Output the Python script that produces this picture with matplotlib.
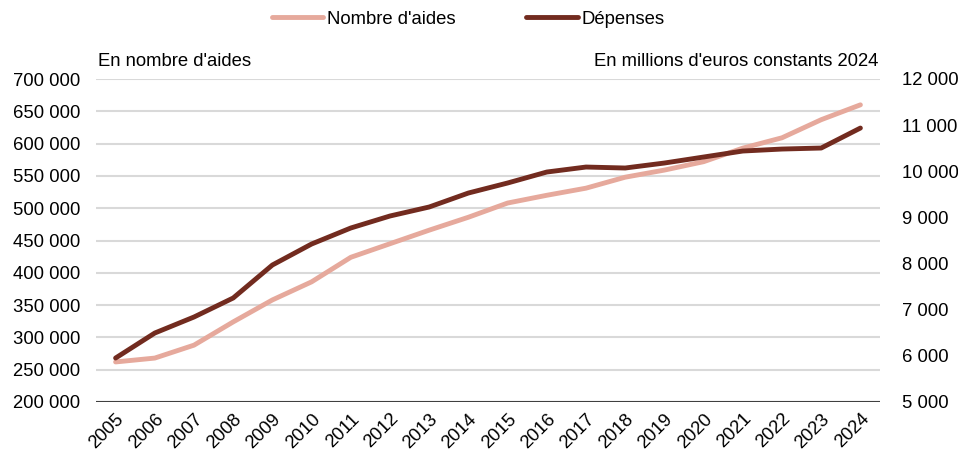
import numpy as np
import matplotlib
matplotlib.use('Agg')
from matplotlib import pyplot as plt
from matplotlib.ticker import FuncFormatter

plt.rcParams['font.family'] = ['Liberation Sans', 'DejaVu Sans']

years = list(range(2005, 2025))
nb_aides = [262000, 268000, 288000, 324000, 358000, 386000, 424000, 445000, 466000, 486000,
            508000, 520000, 531000, 548000, 559000, 572000, 593000, 609000, 637000, 660000]
depenses = [5953, 6495, 6842, 7254, 7969, 8424, 8771, 9031, 9226, 9529,
            9746, 9984, 10092, 10071, 10179, 10309, 10439, 10482, 10504, 10937]

pink = '#E6A99C'
brown = '#722B1F'
fs = 13.3


def fmt_space(v, pos):
    return f'{int(round(v)):,}'.replace(',', ' ')


fig = plt.figure(figsize=(9.58, 4.53), dpi=100)
ax = fig.add_axes([96 / 958, 1 - 402 / 453, (880 - 96) / 958, (402 - 79) / 453])
ax2 = ax.twinx()

l1, = ax.plot(years, nb_aides, color=pink, linewidth=3.5, label="Nombre d'aides",
              solid_capstyle='round', zorder=3)
l2, = ax2.plot(years, depenses, color=brown, linewidth=3.5, label='Dépenses',
               solid_capstyle='round', zorder=3)

ax.set_xlim(2004.5, 2024.5)
ax.set_ylim(200000, 700000)
ax.set_yticks(np.arange(200000, 700001, 50000))
ax2.set_ylim(5000, 12000)
ax2.set_yticks(np.arange(5000, 12001, 1000))
ax.yaxis.set_major_formatter(FuncFormatter(fmt_space))
ax2.yaxis.set_major_formatter(FuncFormatter(fmt_space))

ax.set_xticks(years)
ax.set_xticklabels([str(y) for y in years], rotation=45, ha='right',
                   rotation_mode='anchor', fontsize=fs)
ax.tick_params(axis='x', length=0, pad=6)
ax.tick_params(axis='y', length=0, labelsize=fs, pad=11.5)
ax2.tick_params(axis='y', length=0, labelsize=fs, pad=16)

ax.grid(axis='y', color='#d9d9d9', linewidth=1.5)
ax.set_axisbelow(True)
for a in (ax, ax2):
    for s in ['top', 'left', 'right', 'bottom']:
        a.spines[s].set_visible(False)
ax.axhline(200000, color='#404040', linewidth=1.5, zorder=2)

fig.text(98 / 958, 1 - 62 / 453, "En nombre d'aides", fontsize=fs, va='center', ha='left')
fig.text(878 / 958, 1 - 62 / 453, "En millions d'euros constants 2024", fontsize=fs,
         va='center', ha='right')

fig.legend(handles=[l1, l2], loc='center', bbox_to_anchor=(468 / 958, 1 - 19 / 453),
           ncol=2, frameon=False, fontsize=fs, handlelength=2.8, handletextpad=0.2,
           columnspacing=3.8)

plt.savefig('out.png', dpi=100)
